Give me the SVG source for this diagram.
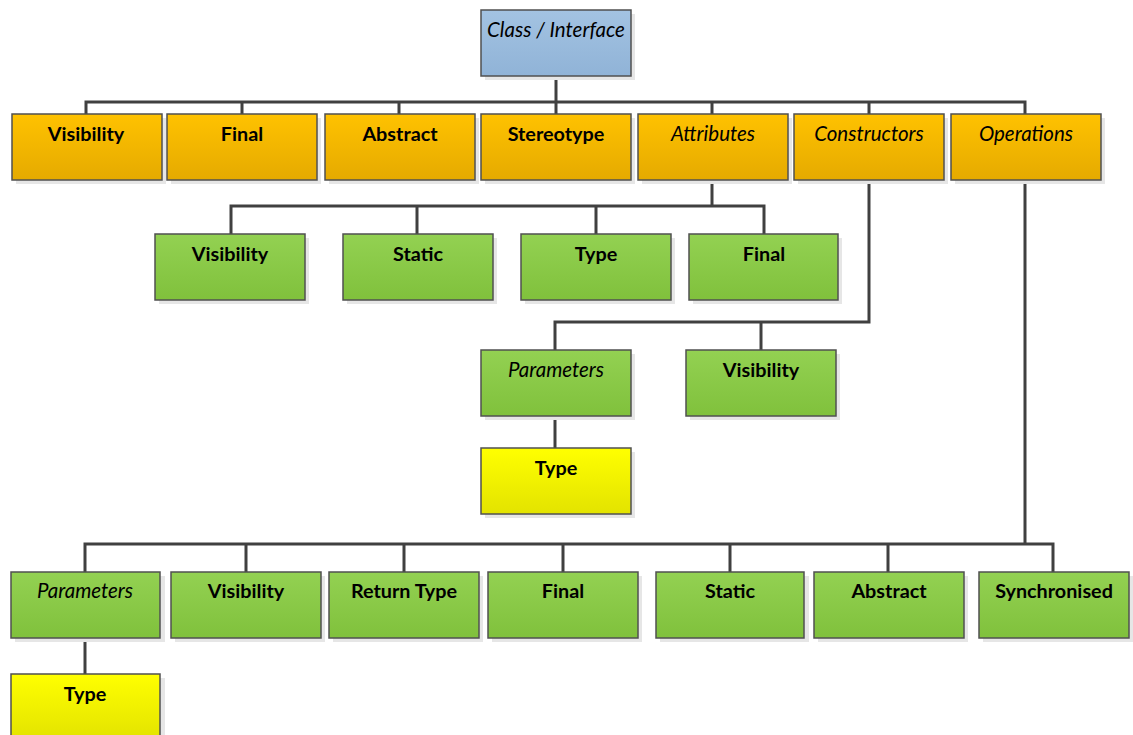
<svg xmlns="http://www.w3.org/2000/svg" width="1133" height="735" viewBox="0 0 1133 735">
  <defs>
    <linearGradient id="gBlue" x1="0" y1="0" x2="0" y2="1">
      <stop offset="0" stop-color="#A3C3E2"/>
      <stop offset="1" stop-color="#90B3D7"/>
    </linearGradient>
    <linearGradient id="gOrange" x1="0" y1="0" x2="0" y2="1">
      <stop offset="0" stop-color="#FFC200"/>
      <stop offset="1" stop-color="#E5AA00"/>
    </linearGradient>
    <linearGradient id="gGreen" x1="0" y1="0" x2="0" y2="1">
      <stop offset="0" stop-color="#93D152"/>
      <stop offset="1" stop-color="#80C13C"/>
    </linearGradient>
    <linearGradient id="gYellow" x1="0" y1="0" x2="0" y2="1">
      <stop offset="0" stop-color="#FFFF00"/>
      <stop offset="1" stop-color="#E3E300"/>
    </linearGradient>
  </defs>
  <style>
    .shadow { fill: #E6E6E6; }
    .box { stroke: #505050; stroke-width: 1.5; }
    .blue { fill: url(#gBlue); }
    .orange { fill: url(#gOrange); }
    .green { fill: url(#gGreen); }
    .yellow { fill: url(#gYellow); }
    text { font-family: Lato, "Liberation Sans", sans-serif; font-size: 19.8px; fill: #000; text-anchor: middle; }
    .b { font-weight: bold; }
    .i { font-style: italic; font-size: 20.5px; }
    .conn { fill: none; stroke: #404040; stroke-width: 3; }
  </style>

  <!-- connectors -->
  <g id="connectors" class="conn">
    <!-- root to first level -->
    <path d="M556 76 V102"/>
    <path d="M86 114 V102 H1025 V114"/>
    <path d="M242 102 V114 M399 102 V114 M556 102 V114 M712 102 V114 M869 102 V114"/>
    <!-- attributes -->
    <path d="M712 180 V206"/>
    <path d="M231 234 V206 H764 V234"/>
    <path d="M417 206 V234 M596 206 V234"/>
    <!-- constructors -->
    <path d="M869 180 V322 H555 V350"/>
    <path d="M761 322 V350"/>
    <path d="M555 416 V448"/>
    <!-- operations -->
    <path d="M1025 180 V544"/>
    <path d="M85 572 V544 H1053 V572"/>
    <path d="M246 544 V572 M404 544 V572 M563 544 V572 M730 544 V572 M888 544 V572"/>
    <path d="M85 638 V674"/>
  </g>

  <!-- root -->
  <g id="n-class">
    <rect class="shadow" x="485" y="14" width="150" height="66"/>
    <rect class="box blue" x="481" y="10" width="150" height="66"/>
    <text class="i" x="556" y="37">Class / Interface</text>
  </g>

  <!-- first level -->
  <g id="n-visibility">
    <rect class="shadow" x="16" y="118" width="150" height="66"/>
    <rect class="box orange" x="12" y="114" width="150" height="66"/>
    <text class="b" x="86" y="141">Visibility</text>
  </g>
  <g id="n-final">
    <rect class="shadow" x="171" y="118" width="150" height="66"/>
    <rect class="box orange" x="167" y="114" width="150" height="66"/>
    <text class="b" x="242" y="141">Final</text>
  </g>
  <g id="n-abstract">
    <rect class="shadow" x="329" y="118" width="150" height="66"/>
    <rect class="box orange" x="325" y="114" width="150" height="66"/>
    <text class="b" x="400" y="141">Abstract</text>
  </g>
  <g id="n-stereotype">
    <rect class="shadow" x="485" y="118" width="150" height="66"/>
    <rect class="box orange" x="481" y="114" width="150" height="66"/>
    <text class="b" x="556" y="141">Stereotype</text>
  </g>
  <g id="n-attributes">
    <rect class="shadow" x="642" y="118" width="150" height="66"/>
    <rect class="box orange" x="638" y="114" width="150" height="66"/>
    <text class="i" x="713" y="141">Attributes</text>
  </g>
  <g id="n-constructors">
    <rect class="shadow" x="798" y="118" width="150" height="66"/>
    <rect class="box orange" x="794" y="114" width="150" height="66"/>
    <text class="i" x="869" y="141">Constructors</text>
  </g>
  <g id="n-operations">
    <rect class="shadow" x="955" y="118" width="150" height="66"/>
    <rect class="box orange" x="951" y="114" width="150" height="66"/>
    <text class="i" x="1026" y="141">Operations</text>
  </g>

  <!-- attribute properties -->
  <g id="n-attr-visibility">
    <rect class="shadow" x="159" y="238" width="150" height="66"/>
    <rect class="box green" x="155" y="234" width="150" height="66"/>
    <text class="b" x="230" y="261">Visibility</text>
  </g>
  <g id="n-attr-static">
    <rect class="shadow" x="347" y="238" width="150" height="66"/>
    <rect class="box green" x="343" y="234" width="150" height="66"/>
    <text class="b" x="418" y="261">Static</text>
  </g>
  <g id="n-attr-type">
    <rect class="shadow" x="525" y="238" width="150" height="66"/>
    <rect class="box green" x="521" y="234" width="150" height="66"/>
    <text class="b" x="596" y="261">Type</text>
  </g>
  <g id="n-attr-final">
    <rect class="shadow" x="693" y="238" width="149" height="66"/>
    <rect class="box green" x="689" y="234" width="149" height="66"/>
    <text class="b" x="764" y="261">Final</text>
  </g>

  <!-- constructor properties -->
  <g id="n-ctor-parameters">
    <rect class="shadow" x="485" y="354" width="150" height="66"/>
    <rect class="box green" x="481" y="350" width="150" height="66"/>
    <text class="i" x="556" y="377">Parameters</text>
  </g>
  <g id="n-ctor-visibility">
    <rect class="shadow" x="690" y="354" width="150" height="66"/>
    <rect class="box green" x="686" y="350" width="150" height="66"/>
    <text class="b" x="761" y="377">Visibility</text>
  </g>
  <g id="n-ctor-param-type">
    <rect class="shadow" x="485" y="452" width="150" height="66"/>
    <rect class="box yellow" x="481" y="448" width="150" height="66"/>
    <text class="b" x="556" y="475">Type</text>
  </g>

  <!-- operation properties -->
  <g id="n-op-parameters">
    <rect class="shadow" x="15" y="576" width="150" height="66"/>
    <rect class="box green" x="11" y="572" width="149" height="66"/>
    <text class="i" x="85" y="598">Parameters</text>
  </g>
  <g id="n-op-visibility">
    <rect class="shadow" x="175" y="576" width="150" height="66"/>
    <rect class="box green" x="171" y="572" width="150" height="66"/>
    <text class="b" x="246" y="598">Visibility</text>
  </g>
  <g id="n-op-returntype">
    <rect class="shadow" x="333" y="576" width="150" height="66"/>
    <rect class="box green" x="329" y="572" width="150" height="66"/>
    <text class="b" x="404" y="598">Return Type</text>
  </g>
  <g id="n-op-final">
    <rect class="shadow" x="492" y="576" width="150" height="66"/>
    <rect class="box green" x="488" y="572" width="150" height="66"/>
    <text class="b" x="563" y="598">Final</text>
  </g>
  <g id="n-op-static">
    <rect class="shadow" x="660" y="576" width="149" height="66"/>
    <rect class="box green" x="656" y="572" width="148" height="66"/>
    <text class="b" x="730" y="598">Static</text>
  </g>
  <g id="n-op-abstract">
    <rect class="shadow" x="818" y="576" width="150" height="66"/>
    <rect class="box green" x="814" y="572" width="150" height="66"/>
    <text class="b" x="889" y="598">Abstract</text>
  </g>
  <g id="n-op-synchronised">
    <rect class="shadow" x="983" y="576" width="150" height="66"/>
    <rect class="box green" x="979" y="572" width="150" height="66"/>
    <text class="b" x="1054" y="598">Synchronised</text>
  </g>
  <g id="n-op-param-type">
    <rect class="shadow" x="15" y="678" width="150" height="66"/>
    <rect class="box yellow" x="11" y="674" width="149" height="66"/>
    <text class="b" x="85" y="701">Type</text>
  </g>
</svg>
